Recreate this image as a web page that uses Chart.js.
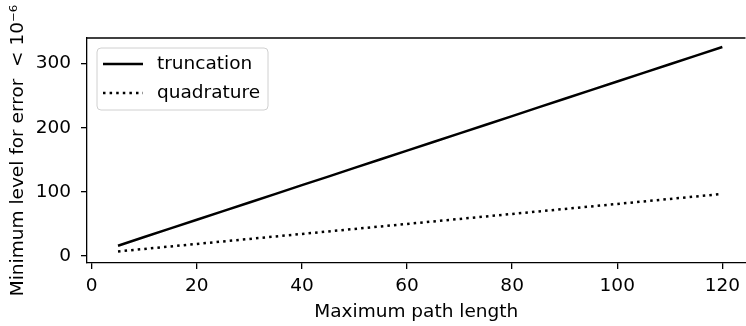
<!DOCTYPE html>
<html>
<head>
<meta charset="utf-8">
<script src="https://cdn.jsdelivr.net/npm/chart.js@4/dist/chart.umd.min.js"></script>
<style>
  html, body { margin: 0; padding: 0; background: #fff; }
  canvas { display: block; }
</style>
</head>
<body>
<canvas id="c" width="746" height="326"></canvas>
<script>
// ---- data ----
const pathLength = [5, 10, 15, 20, 25, 30, 35, 40, 45, 50, 55, 60, 65, 70, 75, 80, 85, 90, 95, 100, 105, 110, 115, 120];
const truncation = [16.0, 29.5, 43.0, 56.4, 69.9, 83.4, 96.9, 110.4, 123.8, 137.3, 150.8, 164.3, 177.8, 191.2, 204.7, 218.2, 231.7, 245.2, 258.6, 272.1, 285.6, 299.1, 312.6, 326.0];
const quadrature = [7.0, 10.9, 14.8, 18.7, 22.6, 26.5, 30.4, 34.3, 38.2, 42.1, 46.0, 49.9, 53.8, 57.7, 61.6, 65.5, 69.4, 73.3, 77.2, 81.1, 85.0, 88.9, 92.8, 96.7];
const xTicks = [0, 20, 40, 60, 80, 100, 120];
const yTicks = [0, 100, 200, 300];
const seriesNames = ['truncation', 'quadrature'];
const xTitle = 'Maximum path length';
const yTitle = 'Minimum level for error  < 10\u207B\u2076';

const FONT = 'DejaVu Sans';
const FS = 18.5;
const LW = 2.5;

function pts(ys) { return pathLength.map((x, i) => ({ x: x, y: ys[i] })); }

const frame = {
  id: 'frame',
  afterDraw(chart) {
    const { ctx, chartArea: a } = chart;
    ctx.save();
    // top spine
    ctx.strokeStyle = '#000';
    ctx.lineWidth = 1.3;
    ctx.beginPath();
    ctx.moveTo(a.left, a.top);
    ctx.lineTo(a.right, a.top);
    ctx.stroke();
    // legend
    const bx = a.left + 10, by = a.top + 10, bw = 171, bh = 62, r = 4;
    ctx.beginPath();
    ctx.moveTo(bx + r, by);
    ctx.lineTo(bx + bw - r, by);
    ctx.arcTo(bx + bw, by, bx + bw, by + r, r);
    ctx.lineTo(bx + bw, by + bh - r);
    ctx.arcTo(bx + bw, by + bh, bx + bw - r, by + bh, r);
    ctx.lineTo(bx + r, by + bh);
    ctx.arcTo(bx, by + bh, bx, by + bh - r, r);
    ctx.lineTo(bx, by + r);
    ctx.arcTo(bx, by, bx + r, by, r);
    ctx.closePath();
    ctx.fillStyle = 'rgba(255,255,255,0.8)';
    ctx.fill();
    ctx.strokeStyle = '#d0d0d0';
    ctx.lineWidth = 1;
    ctx.stroke();
    chart.data.datasets.forEach((ds, i) => {
      const y = by + 16 + i * 29;
      ctx.strokeStyle = ds.borderColor;
      ctx.lineWidth = ds.borderWidth;
      ctx.lineCap = 'butt';
      ctx.setLineDash(ds.borderDash || []);
      ctx.beginPath();
      ctx.moveTo(bx + 6, y);
      ctx.lineTo(bx + 46, y);
      ctx.stroke();
      ctx.setLineDash([]);
      ctx.fillStyle = '#000';
      ctx.font = FS + 'px "' + FONT + '"';
      ctx.textBaseline = 'middle';
      ctx.textAlign = 'left';
      ctx.fillText(ds.label, bx + 60, y);
    });
    ctx.restore();
  }
};

new Chart(document.getElementById('c'), {
  type: 'line',
  data: {
    datasets: [
      { label: seriesNames[0], data: pts(truncation), borderColor: '#000', borderWidth: LW,
        pointRadius: 0, fill: false, tension: 0, borderCapStyle: 'butt' },
      { label: seriesNames[1], data: pts(quadrature), borderColor: '#000', borderWidth: LW,
        borderDash: [2.5, 4.1], pointRadius: 0, fill: false, tension: 0, borderCapStyle: 'butt' }
    ]
  },
  options: {
    responsive: false,
    animation: false,
    devicePixelRatio: 1,
    layout: { padding: { top: 38, right: 0, left: 0, bottom: 0 } },
    plugins: { legend: { display: false }, tooltip: { enabled: false } },
    scales: {
      x: {
        type: 'linear',
        min: -0.9, max: 124.4,
        afterFit(s) { s.height = 63; },
        afterBuildTicks(s) { s.ticks = xTicks.map(v => ({ value: v })); },
        grid: { drawOnChartArea: false, drawTicks: true, tickLength: 6, color: '#000', lineWidth: 1.3 },
        border: { display: true, color: '#000', width: 1.3 },
        ticks: { color: '#000', font: { family: FONT, size: FS }, padding: 6, maxRotation: 0 },
        title: { display: true, text: xTitle, color: '#000', font: { family: FONT, size: FS },
                 padding: { top: 0, bottom: 3 } }
      },
      y: {
        type: 'linear',
        min: -11, max: 340,
        afterFit(s) { s.width = 87; },
        afterBuildTicks(s) { s.ticks = yTicks.map(v => ({ value: v })); },
        grid: { drawOnChartArea: false, drawTicks: true, tickLength: 6, color: '#000', lineWidth: 1.3 },
        border: { display: true, color: '#000', width: 1.3 },
        ticks: { color: '#000', font: { family: FONT, size: FS }, padding: 10 },
        title: { display: true, text: yTitle, color: '#000', font: { family: FONT, size: FS },
                 padding: { top: 7, bottom: 0 } }
      }
    }
  },
  plugins: [frame]
});
</script>
</body>
</html>
